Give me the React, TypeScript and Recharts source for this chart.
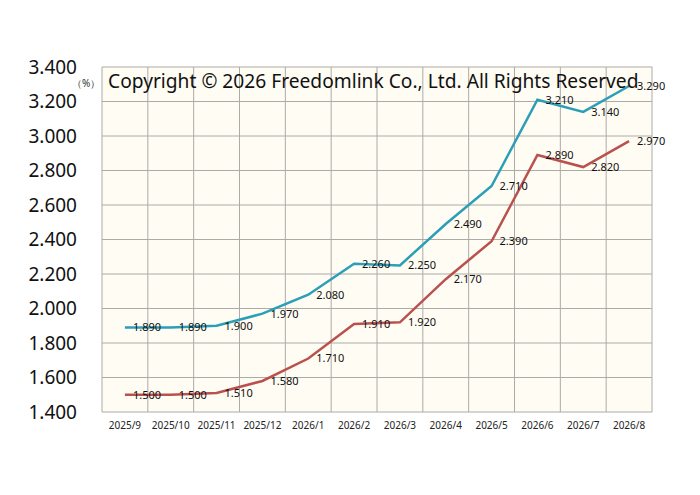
import { LineChart, Line, XAxis, YAxis, CartesianGrid, LabelList } from 'recharts';

const months = ['2025/9', '2025/10', '2025/11', '2025/12', '2026/1', '2026/2', '2026/3', '2026/4', '2026/5', '2026/6', '2026/7', '2026/8'];
const upperRates = [1.89, 1.89, 1.9, 1.97, 2.08, 2.26, 2.25, 2.49, 2.71, 3.21, 3.14, 3.29];
const lowerRates = [1.5, 1.5, 1.51, 1.58, 1.71, 1.91, 1.92, 2.17, 2.39, 2.89, 2.82, 2.97];
const yTicks = [1.4, 1.6, 1.8, 2.0, 2.2, 2.4, 2.6, 2.8, 3.0, 3.2, 3.4];

const font = '"Noto Sans", sans-serif';

export default function App() {
  const chartData = months.map((m, i) => ({
    month: m,
    upper: upperRates[i],
    lower: lowerRates[i],
  }));

  // vertical grid lines sit on the band edges, not the band centres
  const bandEdges = ({ offset }: any) =>
    Array.from({ length: months.length + 1 }, (_, i) => offset.left + (i * offset.width) / months.length);

  const fmt = (v: any) => Number(v).toFixed(3);

  return (
    <div style={{ position: 'absolute', left: 0, top: 0, width: 700, height: 495, background: '#fff', fontFamily: font }}>
      <LineChart width={700} height={495} data={chartData} margin={{ top: 67, right: 48, bottom: 53, left: 0 }}>
        <CartesianGrid
          stroke="#aeaaa6"
          strokeWidth={1}
          fill="#fffcf4"
          verticalCoordinatesGenerator={bandEdges}
        />
        <XAxis
          dataKey="month"
          scale="band"
          height={30}
          tickLine={false}
          axisLine={false}
          tickSize={0}
          tickMargin={10}
          interval={0}
          tick={{ fill: '#222', fontSize: 10, fontFamily: font }}
        />
        <YAxis
          width={102}
          domain={[1.4, 3.4]}
          ticks={yTicks}
          tickFormatter={fmt}
          tickLine={false}
          axisLine={false}
          tickSize={0}
          tickMargin={25}
          tick={{ fill: '#111', fontSize: 19, fontFamily: font }}
        />
        <Line type="linear" dataKey="upper" stroke="#2a9fb7" strokeWidth={2.5} dot={false} isAnimationActive={false}>
          <LabelList dataKey="upper" position="right" offset={8} formatter={fmt} style={{ fill: '#111', fontSize: 11, fontFamily: font }} />
        </Line>
        <Line type="linear" dataKey="lower" stroke="#b9524e" strokeWidth={2.5} dot={false} isAnimationActive={false}>
          <LabelList dataKey="lower" position="right" offset={8} formatter={fmt} style={{ fill: '#111', fontSize: 11, fontFamily: font }} />
        </Line>
      </LineChart>
      <div style={{ position: 'absolute', left: 72, top: 76, fontSize: 10, color: '#333' }}>（%）</div>
      <div style={{ position: 'absolute', left: 108, top: 71, fontSize: 19.2, lineHeight: '20px', color: '#111', whiteSpace: 'nowrap' }}>
        Copyright © 2026 Freedomlink Co., Ltd. All Rights Reserved
      </div>
    </div>
  );
}
